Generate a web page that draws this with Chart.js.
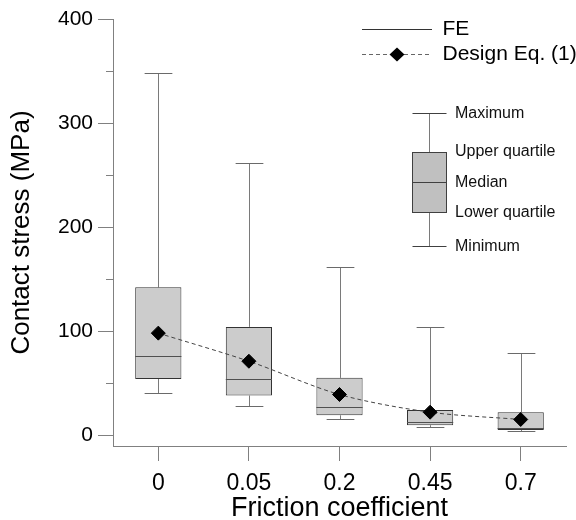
<!DOCTYPE html>
<html><head><meta charset="utf-8">
<script src="https://cdn.jsdelivr.net/npm/chart.js@4/dist/chart.umd.min.js"></script>
<style>html,body{margin:0;padding:0;background:#fff;}</style>
</head><body>
<canvas id="c" width="576" height="520"></canvas>
<script>
// ---- data ----
const categories = ['0', '0.05', '0.2', '0.45', '0.7'];
const feMin    = [40, 28, 15, 8, 4];
const feQ1     = [54, 38, 19, 9.5, 5];
const feMedian = [76, 54, 27, 13, 7];
const feQ3     = [142, 104, 55, 24, 22];
const feMax    = [348, 262, 162, 104, 79];
const designEq = [98, 71, 39, 22, 15];
const yTickValues = [0, 100, 200, 300, 400];
const boxLegendLabels = ['Maximum', 'Upper quartile', 'Median', 'Lower quartile', 'Minimum'];

const FONT = '"Liberation Sans", Arial, sans-serif';
const AXIS_GRAY = '#808080';

// legend icons
function makeIcon(dashed, diamond) {
  const c = document.createElement('canvas');
  c.width = 70; c.height = 15;
  const g = c.getContext('2d');
  if (dashed) {
    g.fillStyle = '#666';
    for (let x = 0; x < 70; x += 7) g.fillRect(x, 7, 4, 1);
  } else {
    g.fillStyle = '#333';
    g.fillRect(0, 7, 70, 1);
  }
  if (diamond) {
    g.fillStyle = '#000';
    g.beginPath();
    g.moveTo(35, 0.5); g.lineTo(42.5, 7.5); g.lineTo(35, 14.5); g.lineTo(27.5, 7.5);
    g.closePath(); g.fill();
  }
  return c;
}
const legendIcons = [makeIcon(false, false), makeIcon(true, true)];

const boxPlotPlugin = {
  id: 'boxPlot',
  beforeDatasetsDraw(chart) {
    const meta = chart.getDatasetMeta(0);
    const y = chart.scales.y;
    const ctx = chart.ctx;
    ctx.save();
    ctx.lineWidth = 1;
    meta.data.forEach((bar, i) => {
      const x = Math.round(bar.x) + 0.5;
      const half = bar.width * 0.3;
      const pMin = Math.round(y.getPixelForValue(feMin[i])) + 0.5;
      const pMax = Math.round(y.getPixelForValue(feMax[i])) + 0.5;
      const pQ1 = y.getPixelForValue(feQ1[i]);
      const pQ3 = y.getPixelForValue(feQ3[i]);
      ctx.strokeStyle = '#7a7a7a';
      ctx.beginPath();
      ctx.moveTo(x, pMax); ctx.lineTo(x, pQ3);
      ctx.moveTo(x, pQ1); ctx.lineTo(x, pMin);
      ctx.stroke();
      ctx.strokeStyle = '#6a6a6a';
      ctx.beginPath();
      ctx.moveTo(x - half, pMax); ctx.lineTo(x + half, pMax);
      ctx.moveTo(x - half, pMin); ctx.lineTo(x + half, pMin);
      ctx.stroke();
    });
    ctx.restore();
  },
  afterDatasetDraw(chart, args) {
    if (args.index !== 0) return;
    const meta = chart.getDatasetMeta(0);
    const y = chart.scales.y;
    const ctx = chart.ctx;
    ctx.save();
    ctx.lineWidth = 1.2;
    ctx.strokeStyle = '#505050';
    meta.data.forEach((bar, i) => {
      const py = Math.round(y.getPixelForValue(feMedian[i])) + 0.5;
      ctx.beginPath();
      ctx.moveTo(bar.x - bar.width / 2, py);
      ctx.lineTo(bar.x + bar.width / 2, py);
      ctx.stroke();
    });
    ctx.restore();
  },
  afterDraw(chart) {
    const ctx = chart.ctx;
    const y = chart.scales.y;
    const left = chart.chartArea.left;
    ctx.save();
    // minor y ticks (between the labelled ones)
    ctx.strokeStyle = AXIS_GRAY;
    ctx.lineWidth = 1;
    for (let k = 0; k < yTickValues.length - 1; k++) {
      const v = (yTickValues[k] + yTickValues[k + 1]) / 2;
      const py = Math.round(y.getPixelForValue(v)) + 0.5;
      ctx.beginPath(); ctx.moveTo(left - 7, py); ctx.lineTo(left, py); ctx.stroke();
    }
    // box explanation glyph
    const bl = 412.5, br = 446.5, cx = 429.5;
    const yMax = 113.5, yQ3 = 152.5, yMed = 182.5, yQ1 = 212.5, yMin = 246.5;
    ctx.strokeStyle = '#7a7a7a';
    ctx.beginPath();
    ctx.moveTo(cx, yMax); ctx.lineTo(cx, yQ3);
    ctx.moveTo(cx, yQ1); ctx.lineTo(cx, yMin);
    ctx.stroke();
    ctx.strokeStyle = '#404040';
    ctx.beginPath();
    ctx.moveTo(bl, yMax); ctx.lineTo(br, yMax);
    ctx.moveTo(bl, yMin); ctx.lineTo(br, yMin);
    ctx.stroke();
    ctx.fillStyle = '#c0c0c0';
    ctx.fillRect(bl, yQ3, br - bl, yQ1 - yQ3);
    ctx.strokeStyle = '#404040';
    ctx.strokeRect(bl, yQ3, br - bl, yQ1 - yQ3);
    ctx.beginPath(); ctx.moveTo(bl, yMed); ctx.lineTo(br, yMed); ctx.stroke();
    ctx.fillStyle = '#111';
    ctx.font = '16px ' + FONT;
    ctx.textAlign = 'left';
    ctx.textBaseline = 'middle';
    const ys = [yMax, yQ3 - 1, yMed, yQ1, yMin];
    boxLegendLabels.forEach((t, i) => ctx.fillText(t, 455, ys[i]));
    ctx.restore();
  },
  afterLayout(chart) {
    const lg = chart.legend;
    if (!lg) return;
    lg.left = 358; lg.top = 15; lg.right = 576; lg.bottom = 95;
    lg.width = lg.right - lg.left; lg.height = lg.bottom - lg.top;
  }
};

new Chart(document.getElementById('c'), {
  type: 'bar',
  data: {
    labels: categories,
    datasets: [
      {
        label: 'FE',
        data: feQ1.map((q, i) => [q, feQ3[i]]),
        backgroundColor: '#cccccc',
        borderColor: '#333333',
        borderWidth: 1,
        borderSkipped: false,
        barPercentage: 0.51,
        categoryPercentage: 1,
        order: 1
      },
      {
        type: 'line',
        label: 'Design Eq. (1)',
        data: designEq,
        borderColor: '#444444',
        borderWidth: 1,
        borderDash: [4, 3],
        tension: 0.3,
        fill: false,
        pointStyle: 'rectRot',
        pointRadius: 7,
        pointBackgroundColor: '#000',
        pointBorderColor: '#000',
        pointBorderWidth: 1,
        order: 0
      }
    ]
  },
  options: {
    responsive: false,
    animation: false,
    devicePixelRatio: 1,
    layout: { padding: { left: 0, right: 10, top: 19, bottom: 0 } },
    plugins: {
      tooltip: { enabled: false },
      legend: {
        position: 'chartArea',
        align: 'start',
        labels: {
          usePointStyle: true,
          pointStyleWidth: 70,
          padding: 4,
          color: '#000',
          font: { family: FONT, size: 21 },
          sort: (a, b) => a.datasetIndex - b.datasetIndex,
          generateLabels(chart) {
            const items = Chart.defaults.plugins.legend.labels.generateLabels(chart);
            items.forEach(it => { it.pointStyle = legendIcons[it.datasetIndex]; });
            return items;
          }
        }
      }
    },
    scales: {
      x: {
        offset: true,
        grid: { display: true, drawOnChartArea: false, offset: false, tickLength: 15, color: AXIS_GRAY },
        border: { display: true, color: AXIS_GRAY, width: 1 },
        ticks: { color: '#000', font: { family: FONT, size: 23 }, padding: 9, maxRotation: 0 },
        title: { display: true, text: 'Friction coefficient', color: '#000',
                 font: { family: FONT, size: 27, lineHeight: 1 }, padding: { top: 0, bottom: -2 } },
        afterFit(scale) { scale.height = 74; }
      },
      y: {
        min: -10.5,
        max: 400,
        grid: { display: true, drawOnChartArea: false, tickLength: 15, color: AXIS_GRAY },
        border: { display: true, color: AXIS_GRAY, width: 1 },
        ticks: { stepSize: 100, includeBounds: false, color: '#000',
                 font: { family: FONT, size: 21 }, padding: 5 },
        title: { display: true, text: 'Contact stress (MPa)', color: '#000',
                 font: { family: FONT, size: 26 }, padding: { top: 6, bottom: 0 } },
        afterFit(scale) { scale.width = 113; }
      }
    }
  },
  plugins: [boxPlotPlugin]
});
</script>
</body></html>
